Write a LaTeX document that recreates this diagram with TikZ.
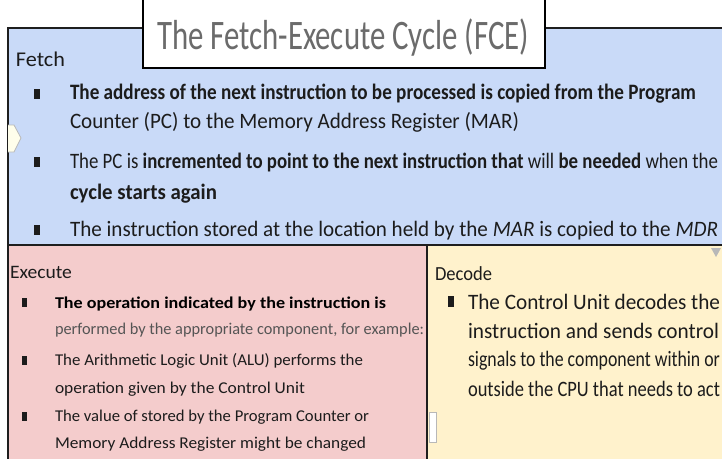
\documentclass[tikz,border=0pt]{standalone}
\usepackage{fontspec}
\setmainfont{Carlito}
\usepackage{graphicx}

\definecolor{fetchfill}{HTML}{C9DAF8}
\definecolor{execfill}{HTML}{F4CCCC}
\definecolor{decfill}{HTML}{FFF2CC}
\definecolor{edge}{HTML}{1E1E1E}
\definecolor{ink}{HTML}{1C1C1C}
\definecolor{softink}{HTML}{555555}
\definecolor{titleink}{HTML}{6B6B6B}
\definecolor{ghost}{HTML}{B8B8B8}

% scale a line horizontally to a given width (in pt), keeping its height
\newcommand\fitw[2]{\resizebox{#1pt}{\height}{#2}}
\newcommand\titlefont{\fontsize{42}{48}\selectfont}
\newcommand\headfont{\fontsize{21}{25}\selectfont}
\newcommand\bodyfont{\fontsize{22}{26}\selectfont}
\newcommand\smallbody{\fontsize{16.5}{19}\selectfont}

\begin{document}
\begin{tikzpicture}[x=1pt,y=-1pt,
  panel/.style={draw=edge,line width=1.3pt},
  txt/.style={anchor=base west,inner sep=0pt,outer sep=0pt,text=ink},
  bulletmark/.style={fill=ink,inner sep=0pt,outer sep=0pt,draw=none}]

\useasboundingbox (0,0) rectangle (722,458);
\clip (0,0) rectangle (722,458);
\fill[white] (0,0) rectangle (722,458);

% the three stage panels
\draw[panel,fill=fetchfill] (8,28) rectangle (735,245);
\draw[panel,fill=execfill] (8,245) rectangle (427,470);
\draw[panel,fill=decfill] (427,245) rectangle (735,470);

% small leftover marks on the panels
\draw[ghost,fill=white!92!yellow,line width=0.8pt]
  (8,125) -- (14,125) -- (21,138) -- (14,152) -- (8,152);
\draw[ghost,fill=white,line width=0.8pt] (429,412) rectangle (436,442);
\fill[ghost] (711,248) -- (721,248) -- (716,257) -- cycle;

% title tab
\draw[draw=black,fill=white,line width=1.5pt] (143,-5) rectangle (545,68);
\node[txt,text=titleink] (title) at (157,49)
  {\titlefont\fitw{372}{The Fetch-Execute Cycle (FCE)}};

% ---- Fetch ----
\node[txt] (fetchhead) at (16,66) {\headfont\fitw{49}{Fetch}};
\node[bulletmark,minimum width=6pt,minimum height=10pt] (fb1) at (37,94) {};
\node[bulletmark,minimum width=6pt,minimum height=10pt] (fb2) at (37,162) {};
\node[bulletmark,minimum width=6pt,minimum height=10pt] (fb3) at (37,230) {};
\node[txt] (f1) at (70,99)
  {\bodyfont\fitw{626}{\bfseries The address of the next instruction to be processed is copied from the Program}};
\node[txt] (f2) at (70,128)
  {\bodyfont\fitw{449}{Counter (PC) to the Memory Address Register (MAR)}};
\node[txt] (f3) at (70,168)
  {\bodyfont\fitw{648}{The PC is \textbf{incremented to point to the next instruction that} will \textbf{be needed} when the}};
\node[txt] (f4) at (70,199)
  {\bodyfont\fitw{147}{\bfseries cycle starts again}};
\node[txt] (f5) at (70,236)
  {\bodyfont\fitw{648}{The instruction stored at the location held by the \textit{MAR} is copied to the \textit{MDR}}};

% ---- Execute ----
\node[txt] (exechead) at (10,278) {\fontsize{19}{23}\selectfont\fitw{62}{Execute}};
\node[bulletmark,minimum width=5pt,minimum height=9pt] (eb1) at (24.5,302) {};
\node[bulletmark,minimum width=5pt,minimum height=9pt] (eb2) at (24.5,360) {};
\node[bulletmark,minimum width=5pt,minimum height=9pt] (eb3) at (24.5,416) {};
\node[txt,text=black] (e1) at (55,308)
  {\smallbody\fitw{331}{\bfseries The operation indicated by the instruction is}};
\node[txt,text=softink] (e2) at (55,334)
  {\smallbody\fitw{369}{performed by the appropriate component, for example:}};
\node[txt] (e3) at (55,365)
  {\smallbody\fitw{308}{The Arithmetic Logic Unit (ALU) performs the}};
\node[txt] (e4) at (55,393)
  {\smallbody\fitw{250}{operation given by the Control Unit}};
\node[txt] (e5) at (55,421)
  {\smallbody\fitw{314}{The value of stored by the Program Counter or}};
\node[txt] (e6) at (55,448)
  {\smallbody\fitw{311}{Memory Address Register might be changed}};

% ---- Decode ----
\node[txt] (dechead) at (435,280) {\fontsize{20}{24}\selectfont\fitw{57}{Decode}};
\node[bulletmark,minimum width=6pt,minimum height=11pt] (db1) at (451,301) {};
\node[txt] (d1) at (468,309)
  {\bodyfont\fitw{252}{The Control Unit decodes the}};
\node[txt] (d2) at (468,338)
  {\bodyfont\fitw{251}{instruction and sends control}};
\node[txt] (d3) at (468,366)
  {\bodyfont\fitw{252}{signals to the component within or}};
\node[txt] (d4) at (468,396)
  {\bodyfont\fitw{252}{outside the CPU that needs to act}};

\end{tikzpicture}
\end{document}
